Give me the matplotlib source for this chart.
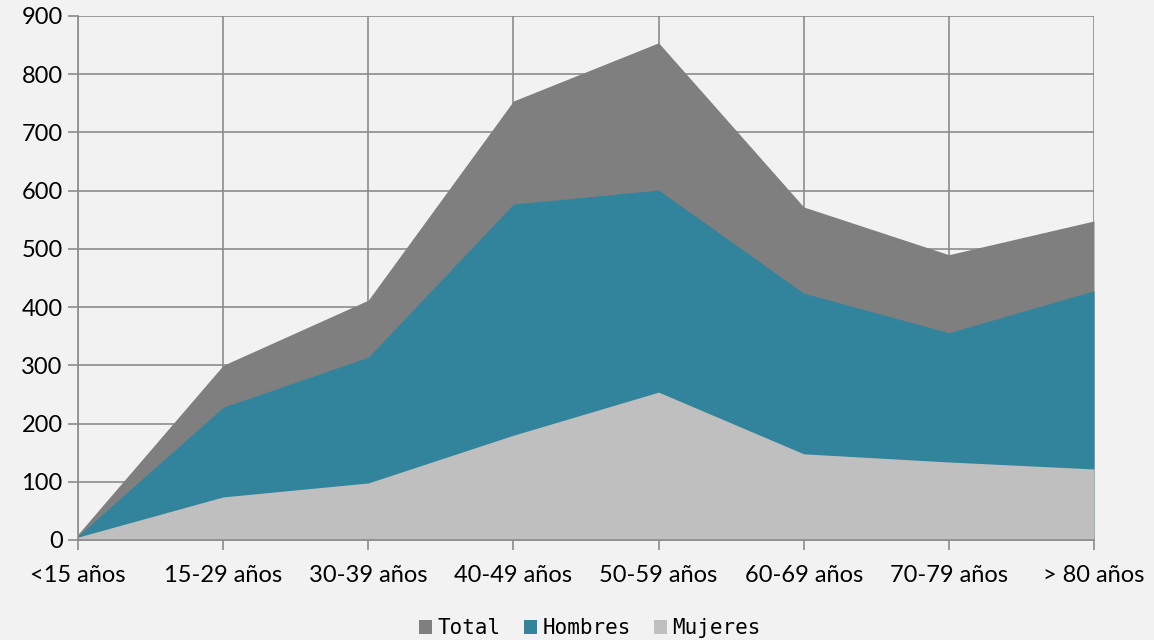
import numpy as np
import matplotlib.pyplot as plt
from matplotlib.patches import Patch

categories = ["<15 años", "15-29 años", "30-39 años", "40-49 años",
              "50-59 años", "60-69 años", "70-79 años", "> 80 años"]
total = [10, 300, 412, 754, 854, 572, 490, 548]
hombres = [7, 228, 314, 577, 601, 424, 356, 428]
mujeres = [5, 74, 98, 180, 254, 148, 134, 122]

bg = "#f2f2f2"
grid_col = "#8c8c8c"
colors = {"Total": "#7f7f7f", "Hombres": "#31849b", "Mujeres": "#bfbfbf"}

fig = plt.figure(figsize=(11.54, 6.4), dpi=100, facecolor=bg)
ax = fig.add_axes([0.0676, 0.15625, 0.8804, 0.81875])
ax.set_facecolor(bg)

x = np.arange(len(categories))
ax.fill_between(x, 0, total, color=colors["Total"], lw=0, zorder=3)
ax.fill_between(x, 0, hombres, color=colors["Hombres"], lw=0, zorder=4)
ax.fill_between(x, 0, mujeres, color=colors["Mujeres"], lw=0, zorder=5)

ax.set_xlim(0, len(categories) - 1)
ax.set_ylim(0, 900)
ax.set_yticks(np.arange(0, 901, 100))
ax.set_xticks(x)
ax.set_xticklabels(categories)

ax.grid(True, color=grid_col, lw=1.2, zorder=1)
for side in ["top", "right"]:
    ax.spines[side].set_visible(False)
for side in ["left", "bottom"]:
    ax.spines[side].set_color(grid_col)
    ax.spines[side].set_linewidth(1.2)
    ax.spines[side].set_zorder(6)

ax.tick_params(axis="both", colors=grid_col, length=7, width=1.2,
               labelcolor="black", labelsize=17)
ax.tick_params(axis="x", pad=11)
ax.tick_params(axis="y", pad=4)
for lab in ax.get_xticklabels() + ax.get_yticklabels():
    lab.set_family("Lato")

handles = [Patch(facecolor=colors[k], edgecolor="none", label=k)
           for k in ["Total", "Hombres", "Mujeres"]]
fig.legend(handles=handles, loc="center", bbox_to_anchor=(0.511, 0.018),
           ncol=3, frameon=False, handlelength=0.65, handleheight=0.65,
           handletextpad=0.25, columnspacing=1.1,
           prop={"family": "DejaVu Sans Mono", "size": 15})

plt.savefig("out.png", dpi=100, facecolor=bg)
